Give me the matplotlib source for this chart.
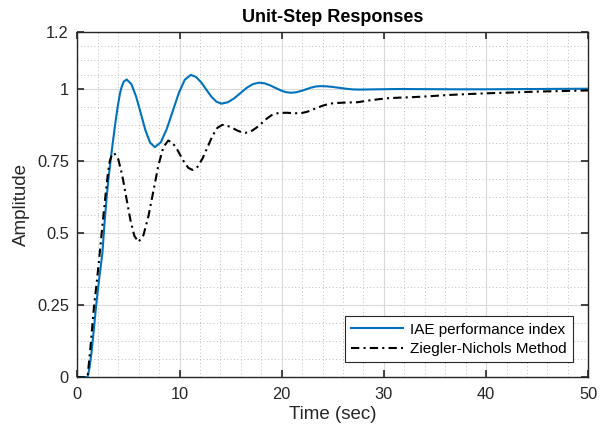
import matplotlib
matplotlib.use("Agg")
import matplotlib.pyplot as plt
import numpy as np

# IAE performance index response
t_iae = [0, 1.0, 1.2, 1.4, 1.6, 1.8, 2.0, 2.2, 2.45, 2.65, 2.87, 3.05, 3.26, 3.47, 3.69,
         3.93, 4.17, 4.35, 4.55, 4.83,
         5.29, 5.75, 6.21, 6.66, 7.12, 7.58,
         8.17, 8.75, 9.34, 9.93, 10.51, 11.1,
         11.6, 12.1, 12.6, 13.1, 13.6, 14.1,
         14.72, 15.33, 15.95, 16.57, 17.18, 17.8,
         18.32, 18.83, 19.35, 19.87, 20.38, 20.9,
         21.38, 21.87, 22.35, 22.83, 23.32, 23.8,
         24.42, 25.03, 25.65, 26.27, 26.88, 27.5,
         29.5, 31.5, 34, 37, 40, 45, 50]
y_iae = [0, 0, 0.035, 0.09, 0.16, 0.235, 0.3, 0.36, 0.43, 0.53, 0.625, 0.69, 0.755, 0.815, 0.875,
         0.935, 0.985, 1.01, 1.027, 1.034,
         1.018, 0.975, 0.9165, 0.858, 0.815, 0.799,
         0.816, 0.862, 0.9245, 0.987, 1.033, 1.05,
         1.043, 1.025, 1.0, 0.975, 0.957, 0.95,
         0.955, 0.968, 0.9865, 1.005, 1.018, 1.023,
         1.0207, 1.0142, 1.0055, 0.9968, 0.9903, 0.988,
         0.9895, 0.9938, 0.9995, 1.0053, 1.0096, 1.011,
         1.0102, 1.008, 1.005, 1.002, 0.9998, 0.999,
         1.0, 1.001, 1.0005, 1.0, 1.0, 1.001, 1.002]

# Ziegler-Nichols response
t_zn = [0, 1.0, 1.3, 1.63, 1.9, 2.12, 2.45, 2.78, 3.0, 3.17, 3.35, 3.6,
        4.0, 4.39, 4.79, 5.19, 5.58, 5.98,
        6.47, 6.95, 7.44, 7.92, 8.41, 8.89,
        9.29, 9.68, 10.08, 10.48, 10.87, 11.27,
        11.76, 12.24, 12.73, 13.21, 13.7, 14.18,
        14.56, 14.94, 15.33, 15.71, 16.09, 16.47,
        17.0, 17.5, 18.0, 18.5, 19.0, 19.7, 20.5, 21.2, 21.9, 22.5, 23.2, 24.0, 24.6,
        25.1, 26.3, 27.4, 28.5, 29.6, 30.4, 31.5, 33, 34.5, 36.2, 38, 40, 42.7, 45,
        47.5, 50]
y_zn = [0, 0, 0.11, 0.245, 0.33, 0.405, 0.525, 0.64, 0.71, 0.75, 0.77, 0.779,
        0.758, 0.702, 0.6245, 0.547, 0.491, 0.47,
        0.4936, 0.558, 0.646, 0.734, 0.7984, 0.822,
        0.815, 0.7965, 0.771, 0.7455, 0.727, 0.72,
        0.7305, 0.759, 0.798, 0.8374, 0.866, 0.8765,
        0.8747, 0.8696, 0.8628, 0.8559, 0.8508, 0.849,
        0.854, 0.866, 0.881, 0.897, 0.91, 0.918, 0.9185, 0.917, 0.917, 0.922, 0.932, 0.943, 0.949,
        0.952, 0.954, 0.955, 0.961, 0.966, 0.969, 0.971, 0.973, 0.976, 0.98, 0.983, 0.986, 0.989, 0.992,
        0.994, 0.996]

labels = ["IAE performance index", "Ziegler-Nichols Method"]
xticks = [0, 10, 20, 30, 40, 50]
yticks = [0, 0.25, 0.5, 0.75, 1, 1.2]
ytick_labels = ["0", "0.25", "0.5", "0.75", "1", "1.2"]

plt.rcParams['font.family'] = ['Liberation Sans', 'DejaVu Sans']

fig = plt.figure(figsize=(6.06, 4.34), dpi=100)
ax = fig.add_axes([0.1276, 0.1306, 0.9708 - 0.1276, 0.927 - 0.1306])

ax.plot(t_iae, y_iae, color='#0072BD', lw=1.5, label=labels[0], zorder=3)
ax.plot(t_zn, y_zn, color='black', lw=1.5, linestyle=(0, (4, 2, 1, 2)), label=labels[1], zorder=3)

ax.set_xlim(0, 50)
ax.set_ylim(0, 1.2)
ax.set_xticks(xticks)
ax.set_yticks(yticks)
ax.set_yticklabels(ytick_labels)

# minor grid: each major interval divided in 4 (y) / 5 (x)
ymin = []
for a, b in zip(yticks[:-1], yticks[1:]):
    ymin += list(np.linspace(a, b, 5)[1:-1])
xmin = []
for a, b in zip(xticks[:-1], xticks[1:]):
    xmin += list(np.linspace(a, b, 6)[1:-1])
ax.set_xticks(xmin, minor=True)
ax.set_yticks(ymin, minor=True)

ax.grid(True, which='major', color='#d9d9d9', lw=0.8, linestyle='-')
ax.grid(True, which='minor', color='#bdbdbd', lw=0.7, linestyle=(0, (1, 2.5)))
ax.set_axisbelow(True)

ax.tick_params(which='major', direction='in', length=5, width=1.2, top=True, right=True,
               colors='#262626', labelsize=11.8, pad=6)
ax.tick_params(axis='x', which='major', pad=7)
ax.tick_params(which='minor', length=0, top=True, right=True)
for s in ax.spines.values():
    s.set_color('#262626')
    s.set_linewidth(1.0)

ax.set_title("Unit-Step Responses", fontsize=13, fontweight='bold', color='black', pad=7)
ax.set_xlabel("Time (sec)", fontsize=13.5, color='#262626', labelpad=3)
ax.set_ylabel("Amplitude", fontsize=13.5, color='#262626', labelpad=5)

leg = ax.legend(loc='lower right', fontsize=11, handlelength=3.4, frameon=True, fancybox=False,
                borderaxespad=1.0, borderpad=0.4, labelspacing=0.35, handletextpad=0.5)
leg.get_frame().set_edgecolor('#262626')
leg.get_frame().set_linewidth(0.8)
leg.get_frame().set_alpha(1)

fig.savefig("out.png", dpi=100)
